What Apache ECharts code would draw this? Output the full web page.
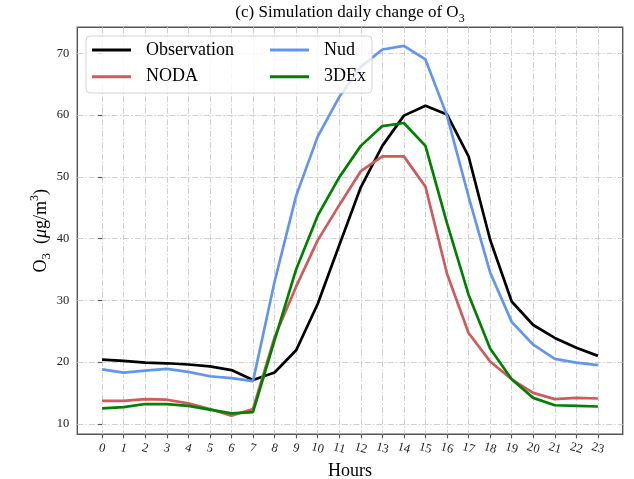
<!DOCTYPE html>
<html>
<head>
<meta charset="utf-8">
<script src="https://cdn.jsdelivr.net/npm/echarts@6/dist/echarts.min.js"></script>
<style>
  html, body { margin: 0; padding: 0; background: #ffffff; }
  #chart { width: 634px; height: 479px; }
</style>
</head>
<body>
<div id="chart"></div>
<script>
// Hour of day (x) and O3 tick values (y)
const hours = [0, 1, 2, 3, 4, 5, 6, 7, 8, 9, 10, 11, 12, 13, 14, 15, 16, 17, 18, 19, 20, 21, 22, 23];
const yTicks = [10, 20, 30, 40, 50, 60, 70];

// Mean diurnal O3 (µg/m3) for each run
const observation = [20.4, 20.2, 19.9, 19.8, 19.6, 19.3, 18.7, 17.1, 18.3, 21.9, 29.4, 38.9, 48.3, 55.0, 59.9, 61.5, 60.1, 53.3, 39.8, 29.8, 26.0, 23.9, 22.3, 21.0];
const noda        = [13.7, 13.7, 14.0, 13.9, 13.3, 12.4, 11.3, 12.4, 24.0, 32.2, 39.7, 45.4, 50.9, 53.3, 53.3, 48.4, 34.3, 24.7, 20.1, 17.2, 15.0, 14.0, 14.2, 14.1];
const nud         = [18.8, 18.3, 18.6, 18.9, 18.4, 17.7, 17.4, 16.9, 33.0, 46.9, 56.5, 62.9, 67.8, 70.6, 71.2, 69.0, 59.9, 46.8, 34.5, 26.5, 22.8, 20.5, 19.9, 19.5];
const threeDEx    = [12.5, 12.7, 13.2, 13.2, 12.9, 12.3, 11.7, 11.9, 23.5, 35.0, 43.7, 49.9, 55.0, 58.2, 58.7, 55.0, 42.5, 30.9, 22.2, 17.2, 14.2, 13.0, 12.9, 12.8];

const serif = 'Liberation Serif';

const seriesDefs = [
  { name: 'Observation', values: observation, color: '#000000' },
  { name: 'NODA',        values: noda,        color: '#cd5c5c' },
  { name: 'Nud',         values: nud,         color: '#6495ed' },
  { name: '3DEx',        values: threeDEx,    color: '#008000' }
];

const gridLine = { color: '#d0d0d0', width: 1, type: [6, 2, 1.5, 2] };

const legendText = {
  fontFamily: serif, fontSize: 18, color: '#000', lineHeight: 20, padding: [0, 0, 0, 10]
};

const chart = echarts.init(document.getElementById('chart'), null, { renderer: 'canvas' });

chart.setOption({
  animation: false,
  backgroundColor: '#ffffff',
  title: {
    text: '(c) Simulation daily change of O{sub|3}',
    left: 350,
    textAlign: 'center',
    top: 1,
    padding: 0,
    textStyle: {
      fontFamily: serif, fontSize: 17, fontWeight: 'normal', color: '#000', lineHeight: 24,
      rich: { sub: { fontFamily: serif, fontSize: 12, lineHeight: 12, verticalAlign: 'bottom', color: '#000' } }
    }
  },
  grid: {
    left: 77.3, right: 11.3, top: 27.3, bottom: 44.7,
    outerBoundsMode: 'none',
    containLabel: false,
    show: true, borderColor: '#555555', borderWidth: 1.4, backgroundColor: 'transparent'
  },
  legend: [
    {
      data: ['Observation', 'NODA'],
      orient: 'vertical', left: 92, top: 40, padding: 0, itemGap: 6.7,
      icon: 'rect', itemWidth: 39, itemHeight: 3, selectedMode: false, z: 200,
      textStyle: legendText
    },
    {
      data: ['Nud', '3DEx'],
      orient: 'vertical', left: 270, top: 40, padding: 0, itemGap: 6.7,
      icon: 'rect', itemWidth: 39, itemHeight: 3, selectedMode: false, z: 200,
      textStyle: legendText
    }
  ],
  graphic: {
    elements: [{
      type: 'rect', z: 100, silent: true,
      shape: { x: 86, y: 36, width: 286, height: 57, r: 4 },
      style: { fill: 'rgba(255,255,255,0.8)', stroke: '#d5d5d5', lineWidth: 1 }
    }]
  },
  xAxis: {
    type: 'value', min: -1.15, max: 24.15,
    name: 'Hours', nameLocation: 'middle', nameGap: 26,
    nameTextStyle: { fontFamily: serif, fontSize: 18, color: '#000', verticalAlign: 'top' },
    axisLine: { show: false },
    axisTick: { show: true, length: 4, customValues: hours, lineStyle: { color: '#555555', width: 1.2 } },
    axisLabel: {
      customValues: hours, rotate: -15, margin: 14, align: 'center', verticalAlign: 'middle',
      fontFamily: serif, fontSize: 12.5, color: '#222'
    },
    splitLine: { show: true, lineStyle: gridLine }
  },
  yAxis: {
    type: 'value', min: 8.3, max: 74.2,
    name: '{n|O}{sub|3}  ({it|μ}{n|g/m}{sup|3})', nameLocation: 'middle', nameGap: 24, nameRotate: 90,
    nameMoveOverlap: false,
    nameTextStyle: {
      fontFamily: serif, fontSize: 18, color: '#000', lineHeight: 24,
      rich: {
        n: { fontFamily: serif, fontSize: 18, color: '#000' },
        it: { fontFamily: serif, fontSize: 18, fontStyle: 'italic', color: '#000' },
        sub: { fontFamily: serif, fontSize: 13, lineHeight: 12, verticalAlign: 'bottom', color: '#000' },
        sup: { fontFamily: serif, fontSize: 12, lineHeight: 14, verticalAlign: 'top', color: '#000' }
      }
    },
    axisLine: { show: false },
    axisTick: { show: true, length: 4, customValues: yTicks, lineStyle: { color: '#555555', width: 1.2 } },
    axisLabel: { customValues: yTicks, margin: 8, fontFamily: serif, fontSize: 12.5, color: '#222' },
    splitLine: { show: true, lineStyle: gridLine }
  },
  series: seriesDefs.map((s, k) => ({
    name: s.name,
    type: 'line',
    data: hours.map((h, i) => [h, s.values[i]]),
    symbol: 'none',
    color: s.color,
    lineStyle: { color: s.color, width: 2.7 },
    z: 10 + k
  }))
});
</script>
</body>
</html>
